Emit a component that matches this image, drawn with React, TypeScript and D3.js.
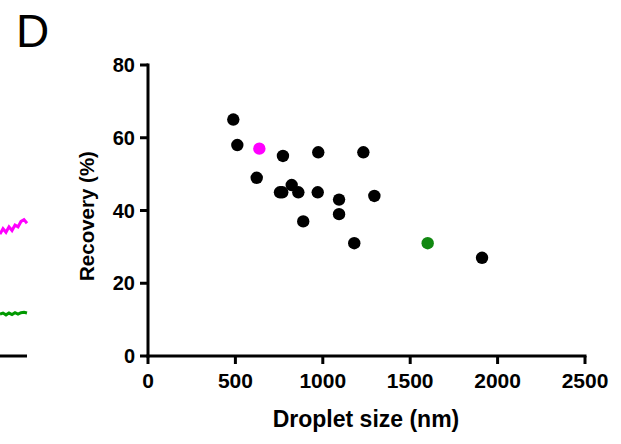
import React from "react";
import * as d3 from "d3";

const W = 621;
const H = 444;

// Scatter data: droplet size (nm) vs recovery (%)
const blackSizes = [488, 511, 622, 755, 772, 768, 822, 860, 888, 971, 974, 1093, 1093, 1180, 1232, 1295, 1911];
const blackRecovery = [65, 58, 49, 45, 55, 45, 47, 45, 37, 45, 56, 43, 39, 31, 56, 44, 27];
const magentaSizes = [637];
const magentaRecovery = [57];
const greenSizes = [1600];
const greenRecovery = [31];

const xTicks = [0, 500, 1000, 1500, 2000, 2500];
const yTicks = [0, 20, 40, 60, 80];

// Fragment of the neighbouring panel (left edge) — trace values
const magentaTrace = [33.5, 35, 34, 35.5, 34.5, 36, 35.5, 37, 37.5, 36.5];
const greenTrace = [11.5, 11.8, 11.3, 11.8, 11.4, 11.9, 11.5, 11.9, 12, 11.8];

const FONT = "'Liberation Sans', Arial, Helvetica, sans-serif";

export default function App() {
  const x = d3.scaleLinear().domain([0, 2500]).range([148, 585]);
  const y = d3.scaleLinear().domain([0, 80]).range([356, 65]);

  const fx = d3.scaleLinear().domain([0, magentaTrace.length - 1]).range([0, 27]);
  const lineGen = d3
    .line<number>()
    .x((_, i) => fx(i))
    .y((d) => y(d))
    .curve(d3.curveLinear);

  const dots = (xs: number[], ys: number[], color: string, key: string) =>
    xs.map((v, i) => (
      <circle key={key + i} cx={x(v)} cy={y(ys[i])} r={6.2} fill={color} />
    ));

  return (
    <svg
      width={W}
      height={H}
      style={{ position: "absolute", left: 0, top: 0, background: "#fff" }}
      fontFamily={FONT}
    >
      <rect width={W} height={H} fill="#fff" />
      <text x={16} y={47} fontSize={46} fontFamily={FONT} fill="#000">
        D
      </text>

      <path d={lineGen(magentaTrace) || ""} fill="none" stroke="#ff00ff" strokeWidth={3} />
      <path d={lineGen(greenTrace) || ""} fill="none" stroke="#009900" strokeWidth={3} />
      <line x1={0} x2={27} y1={356} y2={356} stroke="#000" strokeWidth={3} />

      {/* Y axis */}
      <line x1={148} x2={148} y1={y(80) - 1.5} y2={y(0) + 1.5} stroke="#000" strokeWidth={3} />
      {yTicks.map((t) => (
        <g key={"yt" + t}>
          <line x1={140} x2={148} y1={y(t)} y2={y(t)} stroke="#000" strokeWidth={3} />
          <text
            x={135}
            y={y(t)}
            dy="0.36em"
            textAnchor="end"
            fontSize={20}
            fontWeight="bold"
            fill="#000"
          >
            {t}
          </text>
        </g>
      ))}

      {/* X axis */}
      <line x1={x(0) - 1.5} x2={x(2500) + 1.5} y1={356} y2={356} stroke="#000" strokeWidth={3} />
      {xTicks.map((t) => (
        <g key={"xt" + t}>
          <line x1={x(t)} x2={x(t)} y1={356} y2={364} stroke="#000" strokeWidth={3} />
          <text
            x={x(t)}
            y={388}
            textAnchor="middle"
            fontSize={21}
            fontWeight="bold"
            fill="#000"
          >
            {t}
          </text>
        </g>
      ))}

      <text
        x={366}
        y={427}
        textAnchor="middle"
        fontSize={23}
        fontWeight="bold"
        fill="#000"
      >
        Droplet size (nm)
      </text>
      <text
        transform={`translate(94,${216}) rotate(-90)`}
        textAnchor="middle"
        fontSize={20.5}
        fontWeight="bold"
        fill="#000"
      >
        Recovery (%)
      </text>

      {dots(blackSizes, blackRecovery, "#000", "b")}
      {dots(magentaSizes, magentaRecovery, "#ff00ff", "m")}
      {dots(greenSizes, greenRecovery, "#118811", "g")}
    </svg>
  );
}
